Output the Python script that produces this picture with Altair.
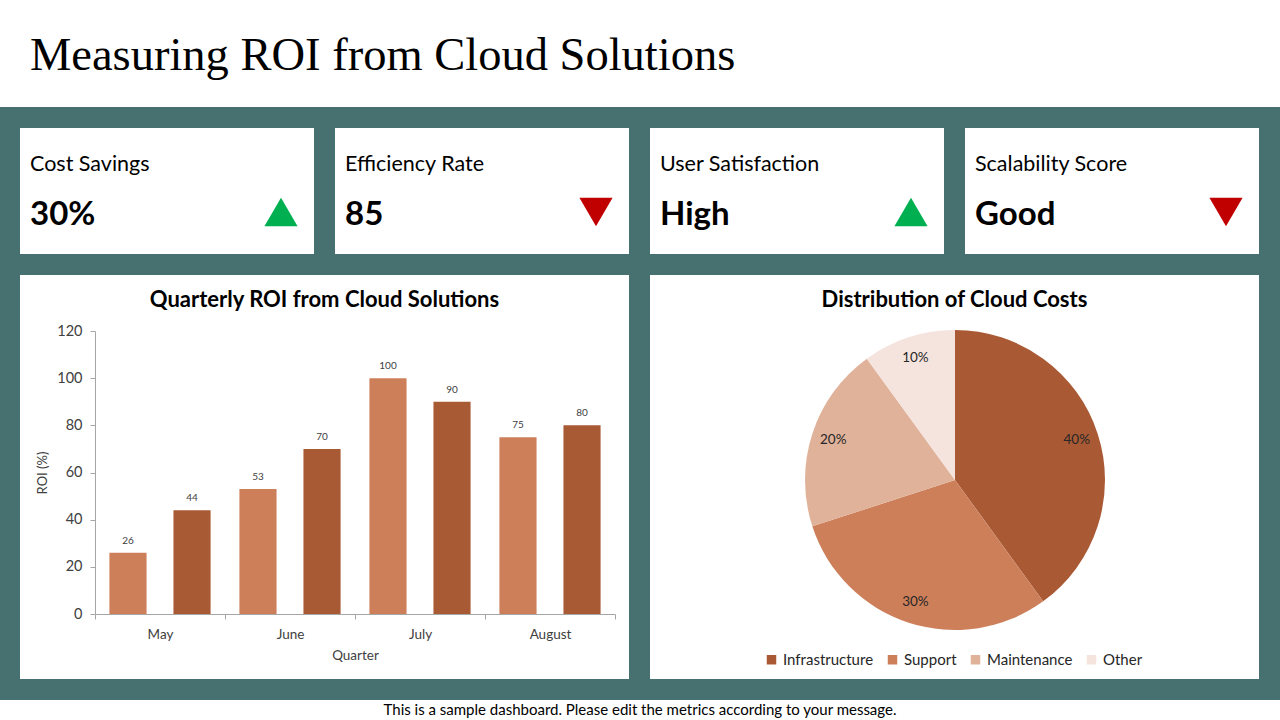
import altair as alt
import pandas as pd

# ---- data -------------------------------------------------------------
kpi_labels = ["Cost Savings", "Efficiency Rate", "User Satisfaction", "Scalability Score"]
kpi_values = ["30%", "85", "High", "Good"]
kpi_trend = ["up", "down", "up", "down"]

months = ["May", "June", "July", "August"]
series = ["Series 1", "Series 2"]
roi_s1 = [26, 53, 100, 75]
roi_s2 = [44, 70, 90, 80]

segments = ["Infrastructure", "Support", "Maintenance", "Other"]
shares = [40, 30, 20, 10]

# ---- styling ----------------------------------------------------------
TEAL = "#467170"
FONT = "Lato"
BAR_COLORS = ["#CD7F5A", "#A85A34"]
PIE_COLORS = ["#A95A35", "#CD7F5A", "#E0B29A", "#F5E4DE"]
TEXT = "#000000"
AXIS_TEXT = "#404040"
LABEL_TEXT = "#262626"

W, H = 1280, 720
one = pd.DataFrame({"k": [0]})


def box(x0, x1, y0, y1, color):
    return alt.Chart(one).mark_rect(color=color).encode(
        x=alt.value(x0), x2=alt.value(x1), y=alt.value(y0), y2=alt.value(y1)
    )


def label(text, x, y, size, weight="normal", align="left", font=FONT, color=TEXT):
    return alt.Chart(one).mark_text(
        text=text, font=font, fontSize=size, fontWeight=weight,
        align=align, baseline="alphabetic", color=color,
    ).encode(x=alt.value(x), y=alt.value(y))


layers = []

# page background and header
layers.append(box(0, W, 107, 700, TEAL))
layers.append(label("Measuring ROI from Cloud Solutions", 30, 70, 46.5,
                    font="Liberation Serif"))
layers.append(label("This is a sample dashboard. Please edit the metrics according to your message.",
                    640, 715, 15, align="center"))

# KPI cards
card_x = [20, 335, 650, 965]
for cx, name, val, trend in zip(card_x, kpi_labels, kpi_values, kpi_trend):
    layers.append(box(cx, cx + 294, 128, 254, "white"))
    layers.append(label(name, cx + 10, 171, 21.5))
    layers.append(label(val, cx + 10, 225, 33, weight="bold"))
    layers.append(
        alt.Chart(one).mark_point(
            shape="triangle-up" if trend == "up" else "triangle-down",
            filled=True, size=1100, opacity=1,
            color="#00B050" if trend == "up" else "#C00000",
        ).encode(x=alt.value(cx + 261), y=alt.value(212))
    )

# chart panels
layers.append(box(20, 629, 275, 679, "white"))
layers.append(box(650, 1259, 275, 679, "white"))
layers.append(label("Quarterly ROI from Cloud Solutions", 324.5, 307, 22, weight="bold", align="center"))
layers.append(label("Distribution of Cloud Costs", 954.5, 307, 22, weight="bold", align="center"))

# ---- grouped bar chart ------------------------------------------------
bars_df = pd.DataFrame({
    "month": months * 2,
    "series": [series[0]] * 4 + [series[1]] * 4,
    "roi": roi_s1 + roi_s2,
})

x_enc = alt.X(
    "month:N", sort=months,
    scale=alt.Scale(range=[95, 615], paddingInner=0, paddingOuter=0),
    axis=alt.Axis(
        title="Quarter", offset=-106, tickBand="extent", labelAngle=0,
        labelFont=FONT, labelFontSize=13.5, labelColor=AXIS_TEXT, labelPadding=8,
        titleFont=FONT, titleFontSize=13.5, titleFontWeight="normal", titleColor=AXIS_TEXT,
        titlePadding=8, domainColor="#A6A6A6", tickColor="#A6A6A6", tickSize=5,
        zindex=2,
    ),
)
xo_enc = alt.XOffset("series:N", sort=series,
                     scale=alt.Scale(paddingInner=0.42, paddingOuter=0.225))
y_enc = alt.Y(
    "roi:Q",
    scale=alt.Scale(domain=[0, 120], range=[614, 331], nice=False),
    axis=alt.Axis(
        title="ROI (%)", offset=-95, values=[0, 20, 40, 60, 80, 100, 120], grid=False,
        labelFont=FONT, labelFontSize=14.5, labelColor=AXIS_TEXT, labelPadding=8,
        titleFont=FONT, titleFontSize=13, titleFontWeight="normal", titleColor=AXIS_TEXT,
        titlePadding=7, domainColor="#A6A6A6", tickColor="#A6A6A6", tickSize=5,
        zindex=2,
    ),
)

bars = alt.Chart(bars_df).mark_bar().encode(
    x=x_enc, xOffset=xo_enc, y=y_enc,
    color=alt.Color("series:N", sort=series,
                    scale=alt.Scale(domain=series, range=BAR_COLORS), legend=None),
)
bar_labels = alt.Chart(bars_df).mark_text(
    font=FONT, fontSize=10, color=AXIS_TEXT, baseline="bottom", dy=-7,
).encode(x=x_enc, xOffset=xo_enc, y=y_enc, text="roi:Q")

# ---- pie chart --------------------------------------------------------
pie_df = pd.DataFrame({
    "segment": segments,
    "share": shares,
    "order": list(range(len(segments))),
    "label": [f"{s}%" for s in shares],
})

theta_enc = alt.Theta("share:Q", stack=True)
pie = alt.Chart(pie_df).mark_arc(outerRadius=150).encode(
    theta=theta_enc,
    order=alt.Order("order:Q"),
    color=alt.Color(
        "segment:N", sort=segments,
        scale=alt.Scale(domain=segments, range=PIE_COLORS),
        legend=alt.Legend(
            title=None, orient="none", direction="horizontal",
            legendX=764, legendY=652, symbolType="square", symbolSize=90,
            symbolStrokeWidth=0, labelFont=FONT, labelFontSize=15, labelColor=LABEL_TEXT,
            columnPadding=11, labelOffset=4,
        ),
    ),
    x=alt.value(955), y=alt.value(480),
)
pie_labels = alt.Chart(pie_df).mark_text(
    radius=128, font=FONT, fontSize=13.5, color=LABEL_TEXT,
).encode(
    theta=theta_enc, order=alt.Order("order:Q"), text="label:N",
    x=alt.value(955), y=alt.value(480),
)

chart = alt.layer(*layers, bars, bar_labels, pie, pie_labels).resolve_scale(
    color="independent"
).properties(
    width=W, height=H, autosize=alt.AutoSizeParams(type="none"), padding=0,
    background="white",
).configure_view(stroke=None)

chart.save("out.html", embed_options={"renderer": "svg", "actions": False})
